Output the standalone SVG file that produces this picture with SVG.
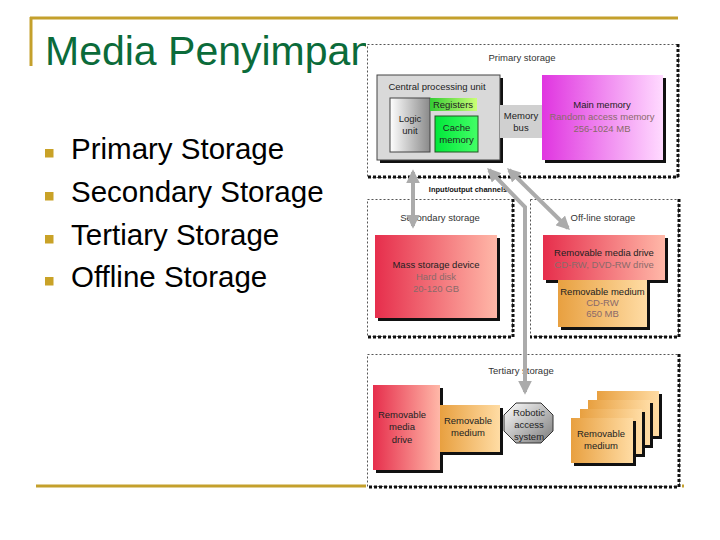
<svg xmlns="http://www.w3.org/2000/svg" width="720" height="540" viewBox="0 0 720 540">
<style>
.gold{stroke:#C4A02C;stroke-width:3;fill:none}
.title{font-family:"Liberation Sans",Arial,sans-serif;font-size:41px;fill:#0B6B3A}
.bul{font-family:"Liberation Sans",Arial,sans-serif;font-size:29.5px;fill:#000}
.bsq{fill:#C9A227}
.t{font-family:"Liberation Sans",Arial,sans-serif;font-size:9.5px;fill:#222;text-anchor:middle}
.tl{font-family:"Liberation Sans",Arial,sans-serif;font-size:9.5px;fill:#8a6a6a;text-anchor:middle}
.lbl{font-family:"Liberation Sans",Arial,sans-serif;font-size:9.5px;fill:#333;text-anchor:middle}
.dot{fill:none;stroke:#555;stroke-width:1;stroke-dasharray:2,2}
.dotk{fill:none;stroke:#111;stroke-width:3;stroke-dasharray:3,2}
.sh{fill:#111}
.bx{stroke:#444;stroke-width:1}
.arr{fill:none;stroke:#ABABAB;stroke-width:4;marker-start:url(#ah);marker-end:url(#ah)}
</style>
<defs>
<marker id="ah" viewBox="0 0 10 10" refX="8" refY="5" markerWidth="3.4" markerHeight="3.4" orient="auto-start-reverse" markerUnits="strokeWidth">
<path d="M0,0 L10,5 L0,10 z" fill="#ABABAB"/>
</marker>
<linearGradient id="gLogic" x1="0" y1="0" x2="1" y2="0"><stop offset="0" stop-color="#FFFFFF"/><stop offset="1" stop-color="#8A8A8A"/></linearGradient>
<linearGradient id="gReg" x1="0" y1="0" x2="1" y2="0"><stop offset="0" stop-color="#33CC33"/><stop offset="1" stop-color="#CCFF77"/></linearGradient>
<linearGradient id="gCache" x1="0" y1="0" x2="1" y2="0"><stop offset="0" stop-color="#00E83A"/><stop offset="1" stop-color="#44FF66"/></linearGradient>
<linearGradient id="gMag" x1="0" y1="0" x2="1" y2="0"><stop offset="0" stop-color="#E035E0"/><stop offset="1" stop-color="#FFDAFF"/></linearGradient>
<linearGradient id="gRed" x1="0" y1="0" x2="1" y2="0"><stop offset="0" stop-color="#E62E4C"/><stop offset="1" stop-color="#FFB8A8"/></linearGradient>
<linearGradient id="gOr" x1="0" y1="0" x2="1" y2="0"><stop offset="0" stop-color="#E8A040"/><stop offset="1" stop-color="#FFDCA4"/></linearGradient>
<linearGradient id="gOct" x1="0" y1="0" x2="1" y2="1"><stop offset="0" stop-color="#FFFFFF"/><stop offset="1" stop-color="#7A7A7A"/></linearGradient>
</defs>
<rect width="720" height="540" fill="#FFFFFF"/>

<g id="slide-frame">
<line class="gold" x1="30" y1="18" x2="678" y2="18"/>
<line class="gold" x1="31" y1="17" x2="31" y2="66"/>
<line class="gold" x1="36" y1="486" x2="684" y2="486"/>
</g>
<g id="title"><text class="title" x="45" y="65">Media Penyimpanan</text></g>
<g id="bullets">
<rect class="bsq" x="45" y="149" width="8.5" height="8.5"/><text class="bul" x="71" y="159">Primary Storage</text>
<rect class="bsq" x="45" y="192" width="8.5" height="8.5"/><text class="bul" x="71" y="202">Secondary Storage</text>
<rect class="bsq" x="45" y="235" width="8.5" height="8.5"/><text class="bul" x="71" y="245">Tertiary Storage</text>
<rect class="bsq" x="45" y="277" width="8.5" height="8.5"/><text class="bul" x="71" y="287">Offline Storage</text>
</g>

<g id="picture">
<rect x="366" y="41" width="316" height="450" fill="#FFFFFF"/>

<g id="primary-storage">
<rect class="dot" x="367.5" y="44.5" width="311" height="133"/>
<path class="dotk" d="M678,44 V177 H367"/>
<text class="lbl" x="522" y="61">Primary storage</text>
</g>
<g id="cpu">
<rect class="sh" x="380" y="78" width="123" height="85"/>
<rect x="377" y="75" width="123" height="85" fill="#D9D9D9" class="bx"/>
<text class="t" x="437" y="90">Central processing unit</text>
</g>
<g id="logic-unit">
<rect x="390" y="98" width="40" height="54" fill="url(#gLogic)" class="bx"/>
<text class="t" x="410" y="122">Logic</text><text class="t" x="410" y="134">unit</text>
</g>
<g id="registers">
<rect x="430" y="98" width="47" height="13" fill="url(#gReg)"/>
<text class="t" x="453" y="108">Registers</text>
</g>
<g id="cache-memory">
<rect x="435" y="116" width="43" height="36" fill="url(#gCache)" stroke="#225522" stroke-width="1"/>
<text class="t" x="456.5" y="131">Cache</text><text class="t" x="456.5" y="143">memory</text>
</g>
<g id="memory-bus">
<rect x="500" y="105" width="43" height="33" fill="#D0D0D0"/>
<text class="t" x="521" y="119">Memory</text><text class="t" x="521" y="131">bus</text>
</g>
<g id="main-memory">
<rect class="sh" x="545" y="78" width="121" height="85"/>
<rect x="542" y="75" width="121" height="85" fill="url(#gMag)"/>
<text class="t" x="602" y="108">Main memory</text>
<text class="tl" x="602" y="120">Random access memory</text>
<text class="tl" x="602" y="132">256-1024 MB</text>
</g>

<g id="io-label"><text x="468" y="192" font-family="Liberation Sans,Arial,sans-serif" font-size="7.5" font-weight="bold" fill="#111" text-anchor="middle">Input/output channels</text></g>

<g id="secondary-storage">
<rect class="dot" x="367.5" y="199.5" width="145" height="137"/>
<path class="dotk" d="M513,199 V337 H367"/>
<text class="lbl" x="440" y="221">Secondary storage</text>
</g>
<g id="mass-storage">
<rect class="sh" x="378" y="238" width="122" height="83"/>
<rect x="375" y="235" width="122" height="83" fill="url(#gRed)"/>
<text class="t" x="436" y="268">Mass storage device</text>
<text class="tl" x="436" y="280">Hard disk</text>
<text class="tl" x="436" y="292">20-120 GB</text>
</g>

<g id="offline-storage">
<rect class="dot" x="530.5" y="199.5" width="148" height="137"/>
<path class="dotk" d="M679,199 V337 H530"/>
<text class="lbl" x="603" y="221">Off-line storage</text>
</g>
<g id="removable-media-drive">
<rect class="sh" x="546" y="238" width="122" height="45"/>
<rect x="543" y="235" width="122" height="45" fill="url(#gRed)"/>
<text class="t" x="604" y="256">Removable media drive</text>
<text class="tl" x="604" y="268">CD-RW, DVD-RW drive</text>
</g>
<g id="removable-medium-offline">
<rect class="sh" x="561" y="283" width="89" height="47"/>
<rect x="558" y="280" width="89" height="47" fill="url(#gOr)"/>
<text class="t" x="602.5" y="295">Removable medium</text>
<text class="tl" x="602.5" y="306">CD-RW</text>
<text class="tl" x="602.5" y="317">650 MB</text>
</g>

<g id="tertiary-storage">
<rect class="dot" x="367.5" y="354.5" width="312" height="132"/>
<path class="dotk" d="M679,354 V487 H367"/>
<text class="lbl" x="521" y="374">Tertiary storage</text>
</g>
<g id="tertiary-drive">
<rect class="sh" x="376" y="388" width="67" height="85"/>
<rect x="373" y="385" width="67" height="85" fill="url(#gRed)"/>
<text class="t" x="402" y="418">Removable</text>
<text class="t" x="402" y="430">media</text>
<text class="t" x="402" y="443">drive</text>
</g>
<g id="tertiary-medium">
<rect class="sh" x="443" y="408" width="60" height="47"/>
<rect x="440" y="405" width="60" height="47" fill="url(#gOr)"/>
<text class="t" x="468" y="424">Removable</text>
<text class="t" x="468" y="436">medium</text>
</g>
<g id="robotic-access">
<polygon points="516,403 541,403 553,415 553,431 541,443 516,443 504,431 504,415" fill="url(#gOct)" stroke="#333" stroke-width="1"/>
<text class="t" x="529" y="416">Robotic</text>
<text class="t" x="529" y="428">access</text>
<text class="t" x="529" y="440">system</text>
</g>
<g id="media-stack">
<rect class="sh" x="600" y="394" width="62" height="45"/>
<rect x="597" y="391" width="62" height="45" fill="url(#gOr)"/>
<rect class="sh" x="591" y="403" width="62" height="45"/>
<rect x="588" y="400" width="62" height="45" fill="url(#gOr)"/>
<rect class="sh" x="583" y="412" width="62" height="45"/>
<rect x="580" y="409" width="62" height="45" fill="url(#gOr)"/>
<rect class="sh" x="574" y="421" width="62" height="45"/>
<rect x="571" y="418" width="62" height="45" fill="url(#gOr)"/>
<text class="t" x="601" y="437">Removable</text>
<text class="t" x="601" y="449">medium</text>
</g>

<g id="connectors">
<path class="arr" d="M413,172 V226"/>
<path class="arr" d="M489,170 L525,207 V392"/>
<path class="arr" d="M509,170 L568,228"/>
</g>
</g>
</svg>
